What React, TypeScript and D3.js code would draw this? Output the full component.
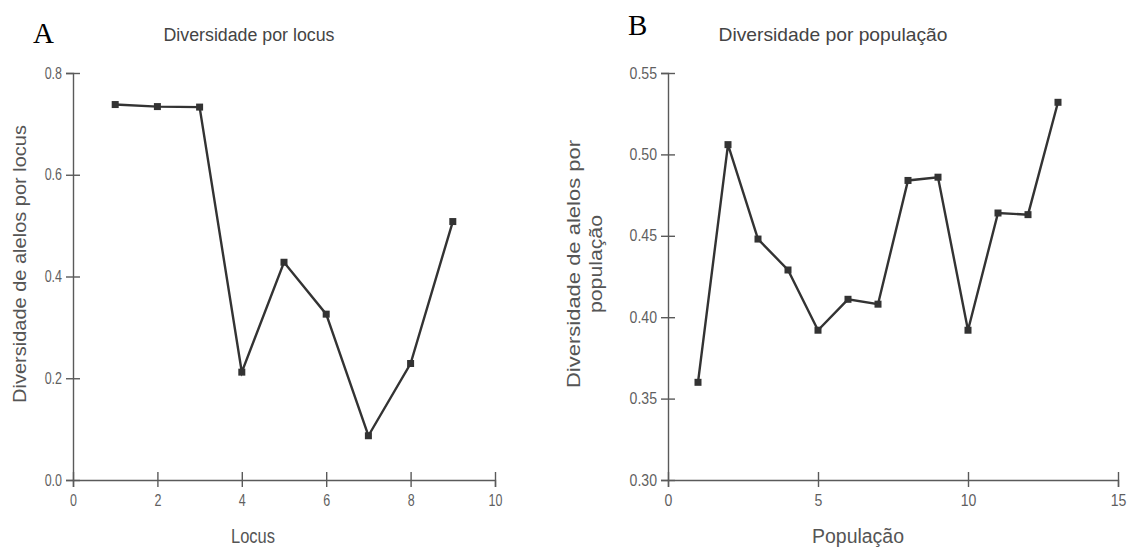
import { useEffect, useRef } from "react";
import * as d3 from "d3";

// painel A: diversidade por locus
var locusX = [1, 2, 3, 4, 5, 6, 7, 8, 9];
var locusDiv = [0.738, 0.734, 0.733, 0.212, 0.428, 0.326, 0.087, 0.229, 0.508];
var locusXTicks = [0, 2, 4, 6, 8, 10];
var locusYTicks = [0, 0.2, 0.4, 0.6, 0.8];

// painel B: diversidade por população
var popX = [1, 2, 3, 4, 5, 6, 7, 8, 9, 10, 11, 12, 13];
var popDiv = [0.360, 0.506, 0.448, 0.429, 0.392, 0.411, 0.408, 0.484, 0.486, 0.392, 0.464, 0.463, 0.532];
var popXTicks = [0, 5, 10, 15];
var popYTicks = [0.30, 0.35, 0.40, 0.45, 0.50, 0.55];

var FONT = "'Liberation Sans', Arial, sans-serif";

// squeeze text horizontally, like the narrow look of the original figure
function condense(sel: any, factor: number) {
    sel.each(function (this: any) {
        var w = this.getComputedTextLength();
        d3.select(this)
            .attr("textLength", w * factor)
            .attr("lengthAdjust", "spacingAndGlyphs");
    });
}

function panel(svg: any, opt: any) {
    var x = d3.scaleLinear().domain(opt.xDomain).range([opt.left, opt.right]);
    var y = d3.scaleLinear().domain(opt.yDomain).range([opt.bottom, opt.top]);

    // Y axis
    var gy = svg.append("g")
        .attr("transform", `translate(${opt.left},0)`)
        .call(d3.axisLeft(y).tickValues(opt.yTicks).tickFormat(d3.format(opt.yFmt))
            .tickSizeOuter(0).tickSize(7).tickPadding(4));
    gy.select(".domain").attr("stroke", "#5a5a5a").attr("stroke-width", 1.4);
    gy.selectAll(".tick line").attr("x1", -7).attr("x2", 7).attr("stroke", "#5a5a5a").attr("stroke-width", 1.4);
    gy.selectAll(".tick text").attr("fill", "#5f5f5f").attr("font-size", 16).attr("font-family", FONT);
    condense(gy.selectAll(".tick text"), opt.tickSqueeze);

    // X axis
    var gx = svg.append("g")
        .attr("transform", `translate(0,${opt.bottom})`)
        .call(d3.axisBottom(x).tickValues(opt.xTicks).tickFormat(d3.format("d"))
            .tickSizeOuter(0).tickSize(7).tickPadding(8));
    gx.select(".domain").attr("stroke", "#5a5a5a").attr("stroke-width", 1.4);
    gx.selectAll(".tick line").attr("y1", -8).attr("y2", 7).attr("stroke", "#5a5a5a").attr("stroke-width", 1.4);
    gx.selectAll(".tick text").attr("fill", "#5f5f5f").attr("font-size", 16).attr("font-family", FONT);
    condense(gx.selectAll(".tick text"), opt.tickSqueeze);

    // line + square markers
    var pts = opt.xs.map(function (d: number, i: number) { return [d, opt.ys[i]]; });
    svg.append("path")
        .datum(pts)
        .attr("fill", "none")
        .attr("stroke", "#333")
        .attr("stroke-width", 2.4)
        .attr("d", d3.line()
            .x(function (d: any) { return x(d[0]); })
            .y(function (d: any) { return y(d[1]); }));
    svg.append("g").selectAll("rect")
        .data(pts)
        .enter().append("rect")
        .attr("x", function (d: any) { return x(d[0]) - 3.5; })
        .attr("y", function (d: any) { return y(d[1]) - 3.5; })
        .attr("width", 7)
        .attr("height", 7)
        .attr("fill", "#333");

    // title
    svg.append("text")
        .attr("x", opt.titleX).attr("y", 41)
        .attr("text-anchor", "middle")
        .attr("font-family", FONT).attr("font-size", opt.titleSize)
        .attr("fill", "#444")
        .text(opt.title)
        .attr("textLength", opt.titleLen).attr("lengthAdjust", "spacingAndGlyphs");

    // x label
    svg.append("text")
        .attr("x", opt.xLabelX).attr("y", 543)
        .attr("text-anchor", "middle")
        .attr("font-family", FONT).attr("font-size", 20)
        .attr("fill", "#555")
        .text(opt.xLabel)
        .attr("textLength", opt.xLabelLen).attr("lengthAdjust", "spacingAndGlyphs");

    // y label (one or more lines)
    opt.yLabel.forEach(function (line: any) {
        svg.append("text")
            .attr("transform", `translate(${line.x},${line.y}) rotate(-90)`)
            .attr("text-anchor", "middle")
            .attr("font-family", FONT).attr("font-size", opt.yLabelSize)
            .attr("fill", "#555")
            .text(line.text)
            .attr("textLength", line.len).attr("lengthAdjust", "spacingAndGlyphs");
    });

    // panel letter
    svg.append("text")
        .attr("x", opt.letterX).attr("y", opt.letterY)
        .attr("font-family", "'Liberation Serif', 'Times New Roman', serif")
        .attr("font-size", 29)
        .attr("fill", "#000")
        .text(opt.letter);
}

function App() {
    const ref = useRef<SVGSVGElement>(null);

    useEffect(() => {
        var svg = d3.select(ref.current);
        svg.selectAll("*").remove();

        panel(svg, {
            xs: locusX, ys: locusDiv,
            xDomain: [0, 10], yDomain: [0, 0.8],
            xTicks: locusXTicks, yTicks: locusYTicks, yFmt: ".1f",
            left: 73, right: 495, top: 73, bottom: 480,
            tickSqueeze: 0.78,
            title: "Diversidade por locus", titleX: 249, titleSize: 18, titleLen: 171,
            xLabel: "Locus", xLabelX: 253, xLabelLen: 44,
            yLabel: [{ text: "Diversidade de alelos por locus", x: 26, y: 264, len: 278 }],
            yLabelSize: 19,
            letter: "A", letterX: 33, letterY: 43
        });

        panel(svg, {
            xs: popX, ys: popDiv,
            xDomain: [0, 15], yDomain: [0.30, 0.55],
            xTicks: popXTicks, yTicks: popYTicks, yFmt: ".2f",
            left: 668, right: 1118, top: 73, bottom: 480,
            tickSqueeze: 0.88,
            title: "Diversidade por população", titleX: 833, titleSize: 19, titleLen: 229,
            xLabel: "População", xLabelX: 858, xLabelLen: 92,
            yLabel: [
                { text: "Diversidade de alelos por", x: 580, y: 264, len: 248 },
                { text: "população", x: 602, y: 264, len: 98 }
            ],
            yLabelSize: 19,
            letter: "B", letterX: 628, letterY: 35
        });
    });

    return (
        <svg ref={ref} width={1129} height={547}
            style={{ position: "absolute", left: 0, top: 0, background: "#fff" }}></svg>
    );
}

export default App;
